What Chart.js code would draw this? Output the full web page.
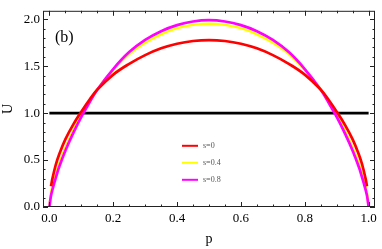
<!DOCTYPE html>
<html>
<head>
<meta charset="utf-8">
<script src="https://cdn.jsdelivr.net/npm/chart.js@4"></script>
<style>
html,body{margin:0;padding:0;background:#fff;}
#wrap{width:382px;height:249px;}
</style>
</head>
<body>
<div id="wrap"><canvas id="c" width="382" height="249"></canvas></div>
<script>
// ---- data ----
const pGrid = [0, 0.005, 0.01, 0.02, 0.03, 0.05, 0.075, 0.1, 0.125, 0.15, 0.2, 0.25, 0.3, 0.35, 0.4, 0.45, 0.5,
               0.55, 0.6, 0.65, 0.7, 0.75, 0.8, 0.85, 0.875, 0.9, 0.925, 0.95, 0.97, 0.98, 0.99, 0.995, 1];
const uS0  = [null, 0.22, 0.31, 0.45, 0.555, 0.72, 0.88, 1.015, 1.14, 1.25, 1.41, 1.525, 1.618, 1.69, 1.739, 1.768, 1.778,
              1.768, 1.739, 1.69, 1.618, 1.525, 1.41, 1.25, 1.14, 1.015, 0.88, 0.72, 0.555, 0.45, 0.31, 0.22, null];
const uS04 = [0, 0.15, 0.23, 0.35, 0.46, 0.63, 0.82, 0.985, 1.125, 1.255, 1.46, 1.63, 1.75, 1.84, 1.905, 1.94, 1.952,
              1.94, 1.905, 1.84, 1.75, 1.63, 1.46, 1.255, 1.125, 0.985, 0.82, 0.63, 0.46, 0.35, 0.23, 0.15, 0];
const uS08 = [0, 0.12, 0.19, 0.31, 0.42, 0.60, 0.79, 0.96, 1.11, 1.25, 1.47, 1.65, 1.78, 1.873, 1.937, 1.976, 1.99,
              1.976, 1.937, 1.873, 1.78, 1.65, 1.47, 1.25, 1.11, 0.96, 0.79, 0.60, 0.42, 0.31, 0.19, 0.12, 0];
const refP = [0, 1];
const refU = [1, 1];
const seriesLabels = ['s=0', 's=0.4', 's=0.8'];
const xTickValues = [0, 0.2, 0.4, 0.6, 0.8, 1.0];
const yTickValues = [0, 0.5, 1.0, 1.5, 2.0];
const xMinorStep = 0.05;
const yMinorStep = 0.1;
const panelLabel = '(b)';

const toXY = (xs, ys) => xs.map((x, i) => ({x: x, y: ys[i]}));

const SERIF = '"Liberation Serif", "DejaVu Serif", serif';

const framePlugin = {
  id: 'frame',
  afterDatasetsDraw(chart) {
    const ctx = chart.ctx, a = chart.chartArea;
    const xs = chart.scales.x, ys = chart.scales.y;
    ctx.save();
    ctx.strokeStyle = '#222';
    ctx.lineWidth = 1;
    ctx.strokeRect(a.left + 0.5, a.top + 0.5, a.right - a.left - 1, a.bottom - a.top - 1);
    ctx.beginPath();
    for (let v = 0; v <= 1.0001; v += xMinorStep) {
      const px = Math.round(xs.getPixelForValue(v)) + 0.5;
      const major = xTickValues.some(t => Math.abs(t - v) < 1e-6);
      const len = major ? 5 : 2.5;
      ctx.moveTo(px, a.bottom); ctx.lineTo(px, a.bottom - len);
      ctx.moveTo(px, a.top); ctx.lineTo(px, a.top + len);
    }
    for (let v = 0; v <= 2.0001; v += yMinorStep) {
      const py = Math.round(ys.getPixelForValue(v)) + 0.5;
      const major = yTickValues.some(t => Math.abs(t - v) < 1e-6);
      const len = major ? 5 : 2.5;
      ctx.moveTo(a.left, py); ctx.lineTo(a.left + len, py);
      ctx.moveTo(a.right, py); ctx.lineTo(a.right - len, py);
    }
    ctx.stroke();

    ctx.fillStyle = '#000';
    ctx.font = '16px ' + SERIF;
    ctx.textBaseline = 'alphabetic';
    ctx.textAlign = 'left';
    ctx.fillText(panelLabel, a.left + 12, a.top + 31);

    const lx = a.left + 139, ly0 = a.top + 135, dy = 17;
    ctx.font = '8px ' + SERIF;
    ctx.textBaseline = 'middle';
    chart.data.datasets.forEach((ds, i) => {
      if (!ds.label) return;
      const y = ly0 + i * dy;
      ctx.strokeStyle = ds.borderColor;
      ctx.lineWidth = 2;
      ctx.beginPath();
      ctx.moveTo(lx, y); ctx.lineTo(lx + 16, y);
      ctx.stroke();
      ctx.fillStyle = '#555';
      ctx.fillText(ds.label, lx + 21, y);
    });
    ctx.restore();
  }
};

new Chart(document.getElementById('c'), {
  type: 'line',
  data: {
    datasets: [
      {label: seriesLabels[0], data: toXY(pGrid, uS0), borderColor: '#ff0000', borderWidth: 2.7, order: 0},
      {label: seriesLabels[1], data: toXY(pGrid, uS04), borderColor: '#ffff00', borderWidth: 2.5, order: 2},
      {label: seriesLabels[2], data: toXY(pGrid, uS08), borderColor: '#ff00ff', borderWidth: 2.7, order: 1},
      {label: '', data: toXY(refP, refU), borderColor: '#000000', borderWidth: 2.7, order: 3, tension: 0}
    ]
  },
  options: {
    responsive: false,
    devicePixelRatio: 1,
    animation: false,
    spanGaps: false,
    elements: {
      point: {radius: 0},
      line: {tension: 0.4, borderCapStyle: 'butt'}
    },
    layout: {padding: {top: 2, right: 7, left: 0, bottom: 0}},
    plugins: {legend: {display: false}, tooltip: {enabled: false}},
    scales: {
      x: {
        type: 'linear', min: -0.02, max: 1.02,
        afterBuildTicks: s => { s.ticks = xTickValues.map(v => ({value: v})); },
        afterFit: s => { s.height = 42; },
        grid: {display: false, drawTicks: false},
        border: {display: false},
        ticks: {
          callback: v => Number(v).toFixed(1),
          font: {family: SERIF, size: 13}, color: '#000', padding: 4, maxRotation: 0, autoSkip: false
        },
        title: {display: true, text: 'p', font: {family: SERIF, size: 14}, color: '#000', padding: {top: 0, bottom: 1}}
      },
      y: {
        type: 'linear', min: 0, max: 2.09,
        afterBuildTicks: s => { s.ticks = yTickValues.map(v => ({value: v})); },
        afterFit: s => { s.width = 43; },
        grid: {display: false, drawTicks: false},
        border: {display: false},
        ticks: {
          callback: v => Number(v).toFixed(1),
          font: {family: SERIF, size: 13}, color: '#000', padding: 3, autoSkip: false
        },
        title: {display: true, text: 'U', font: {family: SERIF, size: 14}, color: '#000', padding: 0}
      }
    }
  },
  plugins: [framePlugin]
});
</script>
</body>
</html>
